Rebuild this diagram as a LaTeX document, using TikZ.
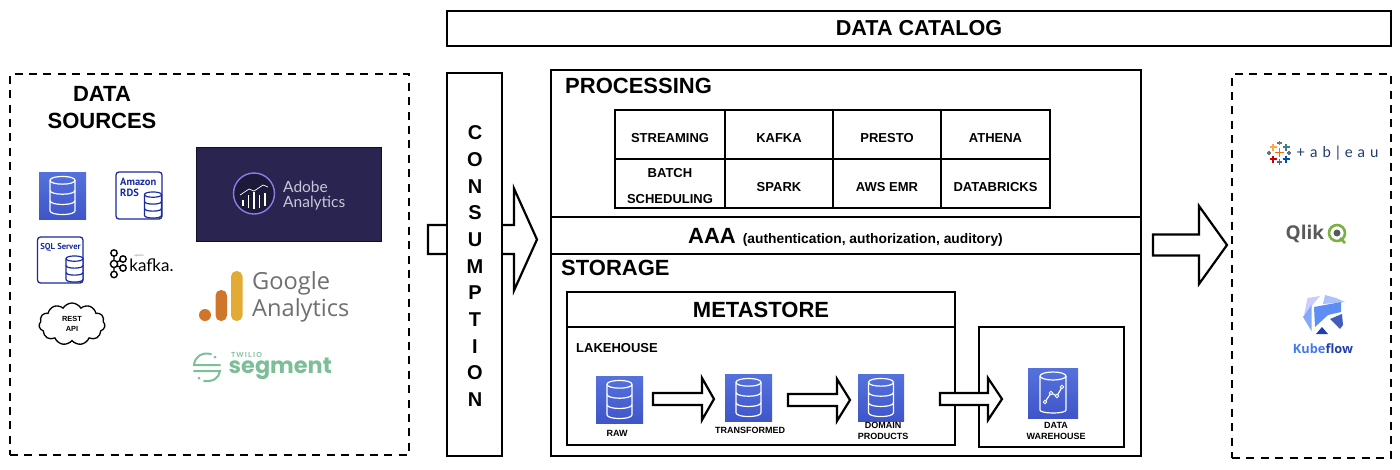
\documentclass[tikz,border=0pt]{standalone}
\usepackage{fontspec}
\setmainfont{Liberation Sans}
\newfontfamily\latof{Lato}
\newfontfamily\opensf{Open Sans}
\newfontfamily\popf{Poppins}
\newfontfamily\ptf{PT Sans}
\usetikzlibrary{shapes.symbols,calc}
\definecolor{iconblue}{HTML}{3F55C8}
\definecolor{iconbluehi}{HTML}{5572DC}
\definecolor{rdsblue}{HTML}{1A2BA0}
\definecolor{adobebg}{HTML}{2A2450}
\definecolor{adobering}{HTML}{8F7BE8}
\definecolor{adobetxt}{HTML}{C9C8D8}
\definecolor{gagray}{HTML}{6F6F6F}
\definecolor{gaorange}{HTML}{D0762A}
\definecolor{gayellow}{HTML}{E3AB33}
\definecolor{seggreen}{HTML}{7DBE97}
\definecolor{tabnavy}{HTML}{1F3A6E}
\definecolor{qlikgray}{HTML}{58595B}
\definecolor{qlikgreen}{HTML}{7AB03F}
\definecolor{kubeblue}{HTML}{4279F4}
\definecolor{kubedark}{HTML}{1F3FAE}
\newcommand\fsz[1]{\fontsize{#1}{#1}\selectfont}
\newcommand\ct[1]{\raisebox{-3.7pt}[\height][\depth]{#1}}
% style, name, x0, y0, x1, y1, text
\newcommand\rectnode[7]{%
  \pgfmathsetmacro\myw{#5-#3}\pgfmathsetmacro\myh{#6-#4}%
  \node[#1,minimum width=\myw pt,minimum height=\myh pt] (#2) at ({(#3+#5)/2},{(#4+#6)/2}) {#7};}
% cx, cy, w, h, colour, fill, line width
\newcommand\dbcyl[7]{%
  \begin{scope}[shift={(#1,#2)},xscale=#3/2,yscale=#4/2,draw=#5,line width=#7]
    \draw[fill=#6] (-1,-.8) -- (-1,.8) .. controls (-1,1.07) and (1,1.07) .. (1,.8) -- (1,-.8) .. controls (1,-1.07) and (-1,-1.07) .. (-1,-.8) -- cycle;
    \draw (-1,-.8) .. controls (-1,-.53) and (1,-.53) .. (1,-.8);
    \draw (-1,-.27) .. controls (-1,0) and (1,0) .. (1,-.27);
    \draw (-1,.27) .. controls (-1,.54) and (1,.54) .. (1,.27);
  \end{scope}}
% from, to, shaft half, head half, head length
\newcommand\blockarrow[5]{%
  \draw[blockline] ($(#1)+(0,-#3)$) -- ($(#2)+(-#5,-#3)$) -- ($(#2)+(-#5,-#4)$) -- (#2) -- ($(#2)+(-#5,#4)$) -- ($(#2)+(-#5,#3)$) -- ($(#1)+(0,#3)$) -- cycle;}
% x, y, half size, colour
\newcommand\tabplus[4]{\draw[#4,line width=1.2pt] (#1-#3,#2) -- (#1+#3,#2) (#1,#2-#3) -- (#1,#2+#3);}
\tikzset{
  x=1pt,y=-1pt,
  box/.style={draw=black,line width=2.2pt,fill=white,inner sep=0pt,outer sep=0pt},
  thinbox/.style={box,line width=2pt},
  dashbox/.style={draw=black,line width=2.6pt,inner sep=0pt,outer sep=0pt,dash pattern=on 8pt off 6.4pt},
  blockline/.style={draw=black,line width=2.2pt,fill=white,line join=miter},
  bigtext/.style={font=\bfseries\fsz{22},inner sep=0pt},
  celltext/.style={font=\bfseries\fsz{13},inner sep=0pt},
  smalltext/.style={font=\bfseries\fsz{9},inner sep=0pt,align=center},
  iconbox/.style={shade,top color=iconbluehi,bottom color=iconblue,draw=none,inner sep=0pt,outer sep=0pt},
  rdsbox/.style={draw=rdsblue,line width=1.3pt,rounded corners=3pt,inner sep=0pt,outer sep=0pt,fill=white},
}
\begin{document}
\begin{tikzpicture}
\useasboundingbox (0,0) rectangle (1400,469);
% frames
\rectnode{thinbox}{catalog}{447}{11}{1391}{46}{\bfseries\fsz{21.6}DATA CATALOG}
\rectnode{dashbox}{sources}{10}{74}{409}{455}{}
\rectnode{dashbox}{outputs}{1232}{74}{1391}{458}{}
\node[bigtext,align=center,font=\bfseries\fsz{22}] (srctitle) at (102,108) {DATA\\[5pt]SOURCES};
% source icons
\rectnode{iconbox}{dbsrc}{39}{172}{86}{219}{}
\dbcyl{62.5}{195.5}{25}{38}{white}{none}{1.2pt}
\rectnode{rdsbox}{rds}{116}{172}{162}{219}{}
\node[anchor=north west,inner sep=0pt,align=left,text=rdsblue,font=\ptf\bfseries\fsz{10.5}] (rdstext) at (120,177.5) {Amazon\\[1pt]RDS};
\dbcyl{153}{205}{17}{26}{rdsblue}{white}{1.2pt}
\rectnode{rdsbox}{sql}{37.5}{237}{83}{283}{}
\node[inner sep=0pt,text=rdsblue,font=\ptf\bfseries\fsz{8.6}] (sqltext) at (60.5,247) {SQL Server};
\dbcyl{74.5}{269}{17}{26}{rdsblue}{white}{1.2pt}
% kafka
\begin{scope}[line width=1.4pt,draw=black]
  \draw (114,253) circle (3.2) (123,259) circle (3.2) (114,264) circle (3.6) (123,268) circle (3.2) (114,274.5) circle (3.2);
  \draw (114,256.2) -- (114,260.4) (114,267.6) -- (114,271.3) (117,262) -- (120.2,260.5) (117,266) -- (120.2,267);
\end{scope}
\node[inner sep=0pt,font=\latof\fsz{17}] (kafkatext) at (151.5,265) {kafka.};
\node[inner sep=0pt,text=gray,font=\latof\fsz{3}] (apachetext) at (139,256) {apache};
\node[cloud,draw=black,line width=1.3pt,cloud puffs=11,cloud puff arc=120,aspect=1.6,minimum width=66pt,minimum height=42pt,inner sep=0pt,outer sep=0pt,align=center,font=\bfseries\fsz{7.4}] (rest) at (72,324) {REST\\[2pt]API};
% adobe
\rectnode{draw=black!60!adobebg,line width=1pt,fill=adobebg,inner sep=0pt,outer sep=0pt}{adobe}{196}{147}{381}{241}{}
\draw[adobering,line width=1.4pt,fill=black!30!adobebg] (254,193.5) circle (20.5);
\draw[white,line width=1.2pt] (243,200) -- (243,206) (248.5,195) -- (248.5,208) (254,192) -- (254,209) (259.5,195) -- (259.5,208) (265,193) -- (265,206);
\draw[white,line width=.7pt] (240,195) -- (249,189) -- (254,191) -- (263,185) -- (268,187);
\node[anchor=west,inner sep=0pt,text=adobetxt,font=\latof\fsz{15.5}] (adobe1) at (283,186.5) {Adobe};
\node[anchor=west,inner sep=0pt,text=adobetxt,font=\latof\fsz{15.5}] (adobe2) at (283,203) {Analytics};
% google
\fill[gaorange] (205,315) circle (6);
\fill[gaorange,rounded corners=5.5pt] (215.5,290) rectangle (227,321);
\fill[gayellow,rounded corners=5.5pt] (231,271) rectangle (242.5,321);
\node[anchor=west,inner sep=0pt,text=gagray,font=\opensf\fsz{23.6}] (ga1) at (252,283) {Google};
\node[anchor=west,inner sep=0pt,text=gagray,font=\opensf\fsz{23.6}] (ga2) at (252,310) {Analytics};
% segment
\begin{scope}[seggreen,line width=2pt,line cap=round]
  \draw (211,354) .. controls (201,352) and (195,357) .. (194,365) -- (220,365);
  \draw (194,371) -- (220,371) .. controls (219,378) and (213,382) .. (204,381);
  \fill (215,357) circle (1.5) (199,378) circle (1.5);
\end{scope}
\node[inner sep=0pt,text=seggreen,font=\latof\bfseries\fsz{7}] (twilio) at (246.5,354.5) {T\,W\,I\,L\,I\,O};
\node[anchor=west,inner sep=0pt,text=seggreen,font=\popf\bfseries\fsz{22.4}] (segtext) at (228.5,369) {segment};
% consumption arrow + column
\coordinate (mainS) at (428,239.5);
\coordinate (mainE) at (537,239.5);
\blockarrow{mainS}{mainE}{14.5}{51}{23}
\rectnode{thinbox}{consumption}{447}{73}{502}{456}{}
\foreach \ch/\yy in {C/133,O/159.6,N/186.3,S/213,U/239.6,M/266.3,P/293,T/319.6,I/346.3,O/373,N/399.6}
  \node[inner sep=0pt,font=\bfseries\fsz{20}] at (475,\yy) {\ch};
% main frame
\rectnode{box}{processing}{551}{70}{1141}{217}{}
\rectnode{box}{aaa}{551}{217}{1141}{254}{}
\rectnode{box}{storage}{551}{254}{1141}{456}{}
\node[anchor=west,bigtext] (proctitle) at (565,86) {PROCESSING};
\node[anchor=west,bigtext] (stortitle) at (561,268) {STORAGE};
\node[inner sep=0pt,anchor=base] (aaatext) at (845.5,243.5) {{\bfseries\fsz{22}AAA}\hspace{7pt}{\bfseries\fsz{13.8}(authentication, authorization, auditory)}};
% table
\rectnode{thinbox,celltext}{c11}{615}{110}{725}{159}{\ct{STREAMING}}
\rectnode{thinbox,celltext}{c12}{725}{110}{833}{159}{\ct{KAFKA}}
\rectnode{thinbox,celltext}{c13}{833}{110}{941}{159}{\ct{PRESTO}}
\rectnode{thinbox,celltext}{c14}{941}{110}{1050}{159}{\ct{ATHENA}}
\rectnode{thinbox}{c21}{615}{159}{725}{208}{}
\rectnode{thinbox,celltext}{c22}{725}{159}{833}{208}{\ct{SPARK}}
\rectnode{thinbox,celltext}{c23}{833}{159}{941}{208}{\ct{AWS EMR}}
\rectnode{thinbox,celltext}{c24}{941}{159}{1050}{208}{\ct{DATABRICKS}}
\node[celltext] (batch) at (670,173) {BATCH};
\node[celltext] (sched) at (670,199.5) {SCHEDULING};
% metastore
\rectnode{thinbox}{metastore}{567}{292}{955}{327}{}
\node[bigtext] (metatext) at (761,310) {METASTORE};
\rectnode{thinbox}{lakehouse}{567}{327}{955}{445}{}
\node[anchor=west,inner sep=0pt,font=\bfseries\fsz{13}] (laketext) at (576,348) {LAKEHOUSE};
\rectnode{thinbox}{dwbox}{979}{327}{1124}{447}{}
% icons
\rectnode{iconbox}{raw}{596}{376}{643}{423}{}
\dbcyl{619.5}{399.5}{25}{38}{white}{none}{1.2pt}
\rectnode{iconbox}{transformed}{725}{374}{772}{421}{}
\dbcyl{748.5}{397.5}{25}{38}{white}{none}{1.2pt}
\rectnode{iconbox}{domain}{858}{374}{904}{421}{}
\dbcyl{881}{397.5}{25}{38}{white}{none}{1.2pt}
\rectnode{iconbox}{dw}{1028}{368}{1078}{418}{}
\begin{scope}[draw=white,line width=1.2pt]
  \draw (1040,376) -- (1040,410) .. controls (1040,414) and (1066,414) .. (1066,410) -- (1066,376);
  \draw (1053,376) ellipse (13 and 4);
  \draw (1045,402) -- (1051,393) -- (1057,396) -- (1062,387);
  \draw[fill=iconblue,line width=.9pt] (1045,402) circle (1.8) (1051,393) circle (1.8) (1057,396) circle (1.8) (1062,387) circle (1.8);
\end{scope}
\node[smalltext] (rawlabel) at (617,433) {RAW};
\node[smalltext] (trlabel) at (750,430) {TRANSFORMED};
\node[smalltext] (dplabel) at (883,431) {DOMAIN\\[2pt]PRODUCTS};
\node[smalltext] (dwlabel) at (1056,431) {DATA\\[2pt]WAREHOUSE};
% block arrows between stores
\coordinate (a1s) at ([xshift=10pt,yshift=.5pt]raw.east);
\coordinate (a1e) at ([xshift=-11pt,yshift=-1.5pt]transformed.west);
\blockarrow{a1s}{a1e}{6}{21}{12}
\coordinate (a2s) at ([xshift=16pt,yshift=-2.5pt]transformed.east);
\coordinate (a2e) at ([xshift=-8pt,yshift=-2.5pt]domain.west);
\blockarrow{a2s}{a2e}{6}{21}{13}
\coordinate (a3s) at ([xshift=36pt,yshift=-1.5pt]domain.east);
\coordinate (a3e) at ([xshift=-26pt,yshift=-6pt]dw.west);
\blockarrow{a3s}{a3e}{6}{21}{14}
% output arrow
\coordinate (outS) at (1153,245);
\coordinate (outE) at (1227,245);
\blockarrow{outS}{outE}{10.5}{39}{28}
% tableau
\tabplus{1279.3}{152.7}{4.5}{orange!85!red}
\tabplus{1273}{159}{3.5}{red!80!black}
\tabplus{1286}{159}{3.5}{blue!40!teal}
\tabplus{1273}{147}{3.5}{orange!70}
\tabplus{1286}{147}{3.5}{teal!50!gray}
\tabplus{1279.3}{143}{2.2}{teal!30!gray}
\tabplus{1279.3}{162}{2.6}{blue!30!gray}
\tabplus{1269}{153}{2.2}{teal!40!gray}
\tabplus{1289}{153}{2.2}{blue!20!gray}
\node[inner sep=0pt,text=tabnavy,font=\latof\fsz{15}] (tableau) at (1337.5,153) {+\,\,a\,\,b\,\,|\,\,e\,\,a\,\,u};
% qlik
\node[anchor=west,inner sep=0pt,text=qlikgray,font=\opensf\bfseries\fsz{19}] (qlik) at (1285.5,233.5) {Qlik};
\draw[qlikgreen,line width=2.6pt] (1337,233) circle (8);
\fill[qlikgray] (1337,233) circle (3.5);
\draw[qlikgreen,line width=2.6pt] (1340,238) -- (1345,243);
% kubeflow
\fill[blue!20!white] (1307.5,298) -- (1320,296) -- (1304,315) -- cycle;
\fill[kubeblue!45!white] (1325,295) -- (1336,298) -- (1345,302) -- (1323,304) -- cycle;
\fill[kubeblue!65!white] (1303,317) -- (1311.5,305) -- (1311.5,331) -- cycle;
\fill[kubeblue!85!white] (1314,307) -- (1341,302) -- (1341,312) -- (1328,315) -- (1315,327) -- cycle;
\fill[kubedark!85!white] (1342,314) -- (1330,319) -- (1340,329) -- (1343,325) -- cycle;
\fill[kubedark] (1316,334) -- (1322,327) -- (1328,334) -- cycle;
\node[inner sep=0pt,font=\opensf\bfseries\fsz{12.8}] (kubeflow) at (1323,349) {\textcolor{kubeblue}{Kube}\textcolor{kubedark}{flow}};
\end{tikzpicture}
\end{document}
